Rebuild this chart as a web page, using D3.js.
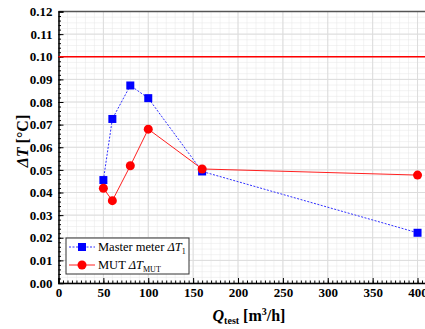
<!DOCTYPE html>
<html>
<head>
<meta charset="UTF-8">
<title></title>
<script src="https://cdn.jsdelivr.net/npm/d3@7"></script>
<style>
    body{margin:0;background:#fff;}
    text{font-family:"Liberation Serif","DejaVu Serif",serif;}
</style>
</head>
<body>
<script>
    // data
    var flows=[50,60,80,100,160,400];
    var masterDT=[0.0455,0.0725,0.0873,0.0817,0.0493,0.0222];
    var mutDT=[0.0419,0.0364,0.0518,0.0680,0.0504,0.0477];
    var limitDT=0.10;
    var xTicks=[0,50,100,150,200,250,300,350,400];
    var yTicks=[0,0.01,0.02,0.03,0.04,0.05,0.06,0.07,0.08,0.09,0.10,0.11,0.12];

    var W=425,H=329;
    var pL=58.5,pT=11.5,pB=283,pR=431;
    var serif="Liberation Serif";

    var svg=d3.select("body").append("svg")
            .attr("width",W)
            .attr("height",H);

    var x=d3.scaleLinear().domain([0,415]).range([pL,pR]);
    var y=d3.scaleLinear().domain([0,0.12]).range([pB,pT]);

    //网格
    var grid=svg.append("g");
    grid.selectAll(".minx").data(d3.range(0,415,10))
        .enter().append("line")
        .attr("x1",function(d){return x(d);}).attr("x2",function(d){return x(d);})
        .attr("y1",pT).attr("y2",pB)
        .attr("stroke","#e6e6e6").attr("stroke-dasharray","1,1");
    grid.selectAll(".miny").data(d3.range(0,0.12,0.0025))
        .enter().append("line")
        .attr("y1",function(d){return y(d);}).attr("y2",function(d){return y(d);})
        .attr("x1",pL).attr("x2",pR)
        .attr("stroke","#e6e6e6").attr("stroke-dasharray","1,1");
    grid.selectAll(".majx").data(xTicks)
        .enter().append("line")
        .attr("x1",function(d){return x(d);}).attr("x2",function(d){return x(d);})
        .attr("y1",pT).attr("y2",pB)
        .attr("stroke","#dcdcdc");
    grid.selectAll(".majy").data(yTicks)
        .enter().append("line")
        .attr("y1",function(d){return y(d);}).attr("y2",function(d){return y(d);})
        .attr("x1",pL).attr("x2",pR)
        .attr("stroke","#dcdcdc");

    //边框
    svg.append("line").attr("x1",pL).attr("x2",pR).attr("y1",pT).attr("y2",pT)
        .attr("stroke","#555").attr("stroke-width",1.5);

    //坐标轴
    var gx=svg.append("g").attr("transform","translate(0,"+pB+")")
        .call(d3.axisBottom(x).tickValues(xTicks).tickSize(-5).tickPadding(5).tickFormat(d3.format("d")));
    svg.append("g").attr("transform","translate(0,"+pB+")")
        .call(d3.axisBottom(x).tickValues(d3.range(0,415,5)).tickSize(-2.5).tickFormat(""))
        .select(".domain").remove();
    var gy=svg.append("g").attr("transform","translate("+pL+",0)")
        .call(d3.axisLeft(y).tickValues(yTicks).tickSize(-5).tickPadding(6).tickFormat(d3.format(".2f")));
    svg.append("g").attr("transform","translate("+pL+",0)")
        .call(d3.axisLeft(y).tickValues(d3.range(0,0.12,0.002)).tickSize(-2.5).tickFormat(""))
        .select(".domain").remove();
    [gx,gy].forEach(function(g){
        g.attr("font-family",serif).attr("font-size",13).attr("font-weight","bold");
    });
    svg.selectAll(".domain").attr("stroke","#000").attr("stroke-width",1.5);
    svg.selectAll(".tick line").attr("stroke","#000");
    svg.selectAll(".tick text").attr("fill","#000");

    //限值线
    svg.append("line")
        .attr("x1",pL).attr("x2",pR)
        .attr("y1",y(limitDT)).attr("y2",y(limitDT))
        .attr("stroke","#ff0000").attr("stroke-width",1.5);

    var line=d3.line()
        .x(function(d){return x(d[0]);})
        .y(function(d){return y(d[1]);});
    var masterPts=d3.zip(flows,masterDT);
    var mutPts=d3.zip(flows,mutDT);

    svg.append("path").datum(masterPts).attr("d",line)
        .attr("fill","none").attr("stroke","#3030ff").attr("stroke-width",1)
        .attr("stroke-dasharray","2,1.5");
    svg.append("path").datum(mutPts).attr("d",line)
        .attr("fill","none").attr("stroke","#ff2020").attr("stroke-width",1);

    svg.selectAll(".sq").data(masterPts).enter().append("rect")
        .attr("x",function(d){return x(d[0])-4;})
        .attr("y",function(d){return y(d[1])-4;})
        .attr("width",8).attr("height",8)
        .attr("fill","#0000ff");
    svg.selectAll(".ci").data(mutPts).enter().append("circle")
        .attr("cx",function(d){return x(d[0]);})
        .attr("cy",function(d){return y(d[1]);})
        .attr("r",4.5)
        .attr("fill","#ff0000");

    //图例
    var lg=svg.append("g");
    lg.append("rect").attr("x",66).attr("y",238).attr("width",123).attr("height",36)
        .attr("fill","#fff").attr("stroke","#333").attr("stroke-width",1);
    lg.append("line").attr("x1",69).attr("x2",95).attr("y1",247).attr("y2",247)
        .attr("stroke","#3030ff").attr("stroke-dasharray","2,1.5");
    lg.append("rect").attr("x",78).attr("y",243).attr("width",8).attr("height",8).attr("fill","#0000ff");
    lg.append("line").attr("x1",69).attr("x2",95).attr("y1",265).attr("y2",265)
        .attr("stroke","#ff2020");
    lg.append("circle").attr("cx",82).attr("cy",265).attr("r",4.5).attr("fill","#ff0000");

    var t1=lg.append("text").attr("x",98).attr("y",251).attr("font-size",12.5);
    t1.append("tspan").text("Master meter ");
    t1.append("tspan").attr("font-style","italic").text("ΔT");
    t1.append("tspan").attr("font-size",8).attr("dy",3).text("1");
    var t2=lg.append("text").attr("x",98).attr("y",269).attr("font-size",12.5);
    t2.append("tspan").text("MUT ");
    t2.append("tspan").attr("font-style","italic").text("ΔT");
    t2.append("tspan").attr("font-size",8).attr("dy",3).text("MUT");

    //轴标题
    var xl=svg.append("text").attr("x",249).attr("y",321).attr("text-anchor","middle")
        .attr("font-size",16).attr("font-weight","bold");
    xl.append("tspan").attr("font-style","italic").text("Q");
    xl.append("tspan").attr("font-size",10).attr("dy",3).text("test");
    xl.append("tspan").attr("dy",-3).text(" [m");
    xl.append("tspan").attr("font-size",10).attr("dy",-6).text("3");
    xl.append("tspan").attr("dy",6).text("/h]");

    var yl=svg.append("text").attr("transform","translate(28,141) rotate(-90)")
        .attr("text-anchor","middle").attr("font-size",16).attr("font-weight","bold");
    yl.append("tspan").attr("font-style","italic").text("ΔT");
    yl.append("tspan").text(" [°C]");
</script>
</body>
</html>
